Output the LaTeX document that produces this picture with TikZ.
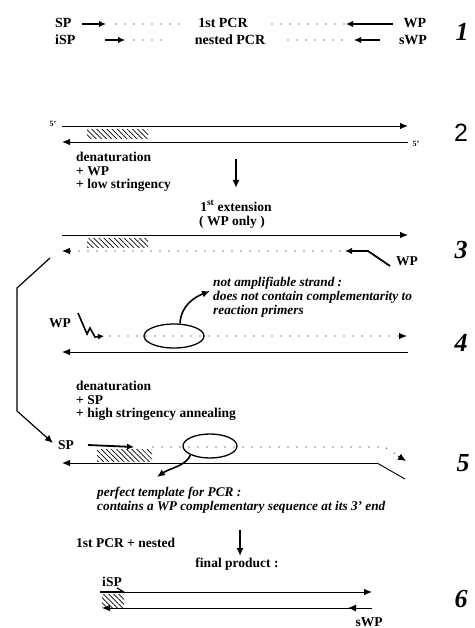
\documentclass[tikz,border=0pt]{standalone}
\usepackage{fontspec}
\setmainfont{Liberation Serif}
\newfontfamily\sansnum{Liberation Sans}
\usetikzlibrary{arrows.meta,patterns.meta,shapes.geometric}
\begin{document}
\begin{tikzpicture}[x=1pt,y=-1pt,
  lbl/.style={font=\fontsize{13.5}{14}\selectfont\bfseries, inner sep=0pt},
  toplbl/.style={font=\fontsize{14}{15}\selectfont\bfseries, inner sep=0pt},
  ital/.style={font=\fontsize{13.3}{14}\selectfont\bfseries\itshape, inner sep=0pt, anchor=west},
  small/.style={font=\fontsize{8}{9}\selectfont\bfseries, inner sep=0pt},
  num/.style={font=\fontsize{26}{27}\selectfont\bfseries\itshape, inner sep=0pt},
  strand/.style={line width=0.9pt, -{Latex[length=8pt,width=6.5pt]}},
  plainline/.style={line width=0.9pt},
  primer/.style={line width=1.8pt, -{Latex[length=7pt,width=6.5pt]}},
  dotline/.style={line width=1.2pt, line cap=round, dash pattern=on 0pt off 9pt},
  hatch/.style={pattern={Lines[angle=-45,distance=3.6pt,line width=0.7pt]}},
  stepdown/.style={line width=1.6pt, -{Latex[length=8pt,width=7pt]}},
  oval/.style={draw, ellipse, line width=1.3pt, inner sep=0pt},
  curvearrow/.style={line width=1.6pt, -{Latex[length=8pt,width=7pt]}}
]
\useasboundingbox (0,0) rectangle (474,628);

% ---------- row 1 ----------
\node[toplbl, anchor=west] (sp1) at (55,23) {SP};
\coordinate (a1s) at (82,24); \coordinate (a1e) at (106,24);
\draw[primer] (a1s) -- (a1e);
\coordinate (d1a) at (116,24); \coordinate (d1b) at (181,24);
\draw[dotline] (d1a) -- (d1b);
\node[toplbl] (pcr1) at (223,23) {1st PCR};
\coordinate (d1c) at (272,24); \coordinate (d1d) at (345,24);
\draw[dotline] (d1c) -- (d1d);
\coordinate (w1s) at (393,24); \coordinate (w1e) at (346,24);
\draw[primer] (w1s) -- (w1e);
\node[toplbl] (wp1) at (415,23) {WP};

\node[toplbl, anchor=west] (isp1) at (55,40) {iSP};
\coordinate (a2s) at (105,40); \coordinate (a2e) at (125,40);
\draw[primer] (a2s) -- (a2e);
\coordinate (d2a) at (134,40); \coordinate (d2b) at (168,40);
\draw[dotline] (d2a) -- (d2b);
\node[toplbl] (pcr2) at (230,40) {nested PCR};
\coordinate (d2c) at (288,40); \coordinate (d2d) at (346,40);
\draw[dotline] (d2c) -- (d2d);
\coordinate (w2s) at (380,40); \coordinate (w2e) at (354,40);
\draw[primer] (w2s) -- (w2e);
\node[toplbl] (swp1) at (413,40) {sWP};
\node[num] (n1) at (462,32) {1};

% ---------- row 2 ----------
\node[small] (p5a) at (53,124) {5'};
\coordinate (r2a) at (62,126); \coordinate (r2b) at (408,126);
\draw[strand] (r2a) -- (r2b);
\coordinate (r2c) at (408,142); \coordinate (r2d) at (62,142);
\draw[strand] (r2c) -- (r2d);
\node[small] (p5b) at (416,144) {5'};
\fill[hatch] (87,130) rectangle (148,139);
\node[font=\fontsize{25}{26}\selectfont\sansnum, inner sep=0pt] (n2) at (461,133) {2};

\node[lbl, anchor=west] (den1) at (76,157) {denaturation};
\node[lbl, anchor=west] (wpadd) at (76,171) {+ WP};
\node[lbl, anchor=west] (low) at (76,185) {+ low stringency};
\coordinate (v1a) at (236,159); \coordinate (v1b) at (236,188);
\draw[stepdown] (v1a) -- (v1b);
\node[lbl] (ext) at (236,206) {1\textsuperscript{st} extension};
\node[lbl] (wponly) at (232,222) {( WP only )};

% ---------- row 3 ----------
\coordinate (r3a) at (62,235); \coordinate (r3b) at (408,235);
\draw[strand] (r3a) -- (r3b);
\fill[hatch] (87,238) rectangle (148,247);
\coordinate (r3c) at (340,251); \coordinate (r3d) at (62,251);
\draw[dotline] (r3c) -- (66,251);
\draw[strand] (70,251) -- (r3d);
\coordinate (w3a) at (390,266); \coordinate (w3b) at (368,251); \coordinate (w3c) at (345,251);
\draw[primer] (w3a) -- (w3b) -- (w3c);
\node[lbl] (wp3) at (407,261) {WP};
\node[num] (n3) at (461,250) {3};

% bracket arrow on the left
\coordinate (b1) at (50,258); \coordinate (b2) at (17,288);
\coordinate (b3) at (17,411); \coordinate (b4) at (53,443);
\draw[line width=1.2pt, -{Latex[length=8pt,width=7pt]}] (b1) -- (b2) -- (b3) -- (b4);

% ---------- row 4 ----------
\node[ital] (na1) at (213,283) {not amplifiable strand :};
\node[ital] (na2) at (213,297) {does not contain complementarity to};
\node[ital] (na3) at (213,311) {reaction primers};

\node[lbl] (wp4) at (60,323) {WP};
\coordinate (z1) at (78,313); \coordinate (z2) at (87,334);
\coordinate (z3) at (90,328); \coordinate (z4) at (95,337);
\coordinate (z5) at (104,336);
\draw[line width=1.6pt, line join=miter, -{Latex[length=6pt,width=6pt]}] (z1) -- (z2) -- (z3) -- (z4) -- (z5);
\coordinate (r4a) at (110,336); \coordinate (r4b) at (407,336);
\draw[dotline] (r4a) -- (398,336);
\draw[strand] (399,336) -- (r4b);
\node[oval, minimum width=60pt, minimum height=24pt] (ov4) at (174,336) {};
\coordinate (c4) at (210,291);
\draw[curvearrow] (ov4.north) ++(6,0) .. controls (181,305) and (195,297) .. (c4);
\coordinate (r4c) at (408,352); \coordinate (r4d) at (62,352);
\draw[strand] (r4c) -- (r4d);
\node[num] (n4) at (461,343) {4};

\node[lbl, anchor=west] (den2) at (76,386) {denaturation};
\node[lbl, anchor=west] (spadd) at (76,400) {+ SP};
\node[lbl, anchor=west] (high) at (76,414) {+ high stringency annealing};

% ---------- row 5 ----------
\node[lbl] (sp5) at (66,445) {SP};
\fill[hatch] (97,449) rectangle (152,461);
\coordinate (a5s) at (88,445); \coordinate (a5e) at (134,447);
\draw[primer] (a5s) -- (a5e);
\coordinate (r5a) at (153,447); \coordinate (r5b) at (385,447); \coordinate (r5c) at (406,461);
\draw[dotline] (r5a) -- (r5b) -- (400,457);
\draw[line width=0.9pt, -{Latex[length=8pt,width=7pt]}] (398,456) -- (r5c);
\coordinate (r5d) at (377,463); \coordinate (r5e) at (62,463); \coordinate (r5f) at (405,479);
\draw[strand] (r5d) -- (r5e);
\draw[plainline] (r5d) -- (r5f);
\node[oval, minimum width=54pt, minimum height=24pt] (ov5) at (210,446) {};
\coordinate (c5) at (157,477);
\draw[curvearrow] (ov5.south west) .. controls (186,466) and (170,468) .. (c5);
\node[num] (n5) at (463,463) {5};

\node[ital] (pt1) at (97,493) {perfect template for PCR :};
\node[ital] (pt2) at (97,507) {contains a WP complementary sequence at its 3' end};

% ---------- row 6 ----------
\node[lbl, anchor=west] (nest) at (76,543) {1st PCR + nested};
\coordinate (v2a) at (240,530); \coordinate (v2b) at (240,556);
\draw[stepdown] (v2a) -- (v2b);
\node[lbl] (fin) at (237,564) {final product :};

\node[lbl] (isp6) at (112,582) {iSP};
\fill[hatch] (102,594) rectangle (124,607);
\coordinate (r6a) at (100,592); \coordinate (r6b) at (372,592);
\draw[line width=1.8pt] (r6a) -- (122,592);
\draw[line width=1.2pt] (117,588) -- (124,592);
\draw[strand] (122,592) -- (r6b);
\coordinate (r6c) at (372,608); \coordinate (r6d) at (102,608);
\draw[strand] (r6c) -- (r6d);
\draw[line width=0.9pt, -{Latex[length=8pt,width=7pt]}] (360,608) -- (348,608);
\node[lbl] (swp6) at (369,622) {sWP};
\node[num] (n6) at (461,599) {6};
\end{tikzpicture}
\end{document}
